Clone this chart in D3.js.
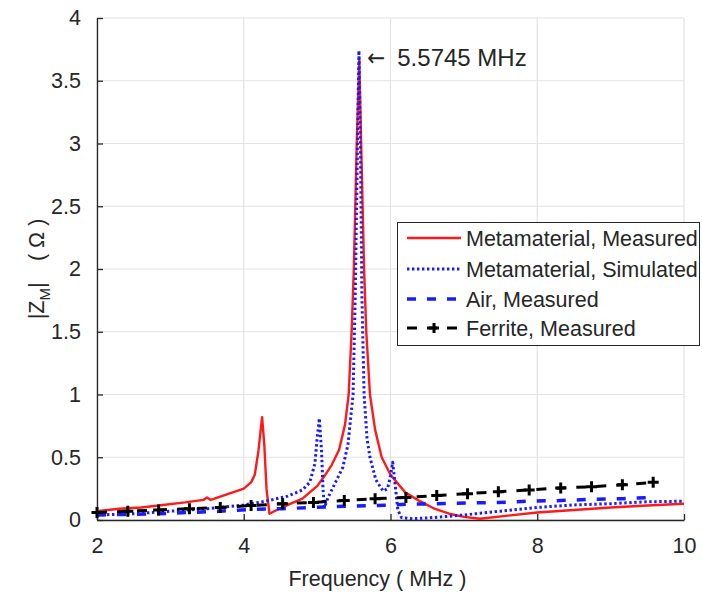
<!DOCTYPE html>
<html>
<head>
<meta charset="utf-8">
<script src="https://cdn.jsdelivr.net/npm/d3@7"></script>
<style>
  html, body { margin: 0; padding: 0; background: #fff; }
  svg { display: block; font-family: "Liberation Sans", Arial, Helvetica, sans-serif; }
</style>
</head>
<body>
<svg id="chart" width="702" height="596"></svg>
<script>
// Metamaterial, measured |Z_M| (Ω) vs frequency (MHz)
const metaMeasFreq = [2.0, 2.3, 2.6, 2.9, 3.2, 3.45, 3.5, 3.55, 3.7, 3.85, 4.0, 4.1, 4.15, 4.2, 4.25, 4.28, 4.31, 4.35,
  4.45, 4.6, 4.8, 5.0, 5.1, 5.2, 5.3, 5.38, 5.43, 5.47, 5.5, 5.54, 5.5745, 5.6, 5.64, 5.67, 5.72, 5.79, 5.88, 6.0,
  6.2, 6.4, 6.6, 6.8, 7.0, 7.22, 7.6, 8.0, 8.5, 9.0, 9.5, 10.0];
const metaMeasVal = [0.07, 0.09, 0.10, 0.12, 0.14, 0.16, 0.18, 0.16, 0.19, 0.22, 0.25, 0.30, 0.36, 0.55, 0.82, 0.60, 0.25, 0.05,
  0.08, 0.12, 0.17, 0.27, 0.35, 0.44, 0.56, 0.76, 1.0, 1.5, 2.0, 3.0, 3.68, 3.0, 2.0, 1.5, 1.0, 0.72, 0.5, 0.36,
  0.22, 0.15, 0.09, 0.05, 0.025, 0.01, 0.035, 0.06, 0.08, 0.10, 0.115, 0.13];

// Metamaterial, simulated
const metaSimFreq = [2.0, 2.5, 3.0, 3.5, 4.0, 4.3, 4.6, 4.8, 4.9, 4.97, 5.0, 5.03, 5.06, 5.08, 5.1, 5.15, 5.25, 5.35, 5.42,
  5.49, 5.52, 5.55, 5.57, 5.59, 5.61, 5.64, 5.68, 5.72, 5.8, 5.9, 5.96, 6.0, 6.03, 6.06, 6.1, 6.15, 6.3, 6.6,
  7.0, 7.5, 8.0, 8.5, 9.0, 9.5, 10.0];
const metaSimVal = [0.04, 0.05, 0.07, 0.09, 0.12, 0.15, 0.19, 0.24, 0.30, 0.45, 0.65, 0.81, 0.55, 0.25, 0.10, 0.18, 0.30, 0.42, 0.60,
  1.0, 1.8, 3.0, 3.74, 3.0, 1.8, 1.0, 0.65, 0.50, 0.32, 0.23, 0.25, 0.35, 0.46, 0.30, 0.08, 0.02, 0.01, 0.02,
  0.04, 0.07, 0.10, 0.12, 0.13, 0.145, 0.15];

// Air and ferrite, measured on a common frequency grid
const sweepFreq = [2.00, 2.42, 2.84, 3.26, 3.68, 4.10, 4.53, 4.95, 5.37, 5.79, 6.21, 6.63, 7.05, 7.47, 7.89, 8.32, 8.74, 9.16, 9.58];
const airVal = [0.04, 0.045, 0.05, 0.06, 0.07, 0.085, 0.09, 0.10, 0.11, 0.115, 0.125, 0.13, 0.135, 0.14, 0.15, 0.155, 0.165, 0.17, 0.18];
const ferriteVal = [0.06, 0.07, 0.08, 0.09, 0.10, 0.115, 0.13, 0.14, 0.155, 0.17, 0.18, 0.195, 0.21, 0.225, 0.24, 0.255, 0.265, 0.28, 0.30];

const xTicks = [2, 4, 6, 8, 10];
const yTicks = [0, 0.5, 1, 1.5, 2, 2.5, 3, 3.5, 4];
const peakFreq = 5.5745;
const peakLabel = "5.5745 MHz";

const seriesNames = ["Metamaterial, Measured", "Metamaterial, Simulated", "Air, Measured", "Ferrite, Measured"];

const svg = d3.select("#chart");
const margin = { left: 97, top: 18, right: 18, bottom: 76 };
const W = 702, H = 596;
const x = d3.scaleLinear().domain([2, 10]).range([margin.left, W - margin.right]);
const y = d3.scaleLinear().domain([0, 4]).range([H - margin.bottom, margin.top]);

const axisColor = "#262626";
const gridColor = "#e3e3e3";
const fontSize = "21.5px";

// grid lines
const grid = svg.append("g");
grid.selectAll("line.gx").data(xTicks).join("line")
  .attr("x1", d => x(d)).attr("x2", d => x(d))
  .attr("y1", y(0)).attr("y2", y(4))
  .attr("stroke", gridColor).attr("stroke-width", 1.2);
grid.selectAll("line.gy").data(yTicks).join("line")
  .attr("x1", x(2)).attr("x2", x(10))
  .attr("y1", d => y(d)).attr("y2", d => y(d))
  .attr("stroke", gridColor).attr("stroke-width", 1.2);

// axes
const fmt = d => String(d);
const xAxis = d3.axisBottom(x).tickValues(xTicks).tickSizeInner(-6).tickSizeOuter(0).tickPadding(18).tickFormat(fmt);
const yAxis = d3.axisLeft(y).tickValues(yTicks).tickSizeInner(-6).tickSizeOuter(0).tickPadding(16).tickFormat(fmt);

const gx = svg.append("g").attr("transform", `translate(0,${y(0)})`).call(xAxis);
const gy = svg.append("g").attr("transform", `translate(${x(2)},0)`).call(yAxis);
[gx, gy].forEach(g => {
  g.select(".domain").attr("stroke", axisColor).attr("stroke-width", 1.3);
  g.selectAll(".tick line").attr("stroke", axisColor).attr("stroke-width", 1.3);
  g.selectAll(".tick text").attr("fill", axisColor).style("font-size", fontSize)
    .style("font-family", "'Liberation Sans', Arial, sans-serif");
});

// clipped plotting region
svg.append("clipPath").attr("id", "plotClip").append("rect")
  .attr("x", x(2)).attr("y", y(4) - 2).attr("width", x(10) - x(2)).attr("height", y(0) - y(4) + 2);
const plot = svg.append("g").attr("clip-path", "url(#plotClip)");

const line = d3.line().x(d => x(d[0])).y(d => y(d[1]));
const zip = (a, b) => a.map((v, i) => [v, b[i]]);

const styles = [
  { color: "#ff1a1a", width: 2.4, dash: null },
  { color: "#1a1aff", width: 3, dash: "2.4,2.6" },
  { color: "#1a1aff", width: 3.5, dash: "9,11" },
  { color: "#000000", width: 3, dash: "10,10" }
];
const data = [
  zip(metaMeasFreq, metaMeasVal),
  zip(metaSimFreq, metaSimVal),
  zip(sweepFreq, airVal),
  zip(sweepFreq, ferriteVal)
];

data.forEach((d, i) => {
  plot.append("path").datum(d)
    .attr("fill", "none")
    .attr("stroke", styles[i].color)
    .attr("stroke-width", styles[i].width)
    .attr("stroke-dasharray", styles[i].dash)
    .attr("stroke-linejoin", "round")
    .attr("d", line);
});

// plus markers on the ferrite series
const plusPath = s => `M${-s},0H${s}M0,${-s}V${s}`;
svg.append("g").selectAll("path").data(data[3]).join("path")
  .attr("transform", d => `translate(${x(d[0])},${y(d[1])})`)
  .attr("d", plusPath(5.5))
  .attr("stroke", "#000").attr("stroke-width", 3).attr("fill", "none");

// axis labels
svg.append("text")
  .attr("x", x(6) - 13).attr("y", 586)
  .attr("text-anchor", "middle").attr("fill", axisColor).style("font-size", fontSize)
  .text("Frequency ( MHz )");

const yl = svg.append("text")
  .attr("transform", `translate(44,${(y(0) + y(4)) / 2}) rotate(-90)`)
  .attr("text-anchor", "middle").attr("fill", axisColor).style("font-size", fontSize);
yl.append("tspan").text("|Z");
yl.append("tspan").attr("dy", 6).style("font-size", "15px").text("M");
yl.append("tspan").attr("dy", -6).text("|\u2003( \u03A9 )");

// peak annotation
const ann = svg.append("text")
  .attr("x", x(peakFreq) + 8).attr("y", 66)
  .attr("fill", axisColor).style("font-size", "24px");
ann.append("tspan").style("font-family", "'DejaVu Sans', sans-serif").style("font-size", "24px")
  .attr("textLength", 18).attr("lengthAdjust", "spacingAndGlyphs").text("\u2190");
ann.append("tspan").attr("dx", 12).text(peakLabel);

// legend
const lg = svg.append("g");
lg.append("rect").attr("x", 397.5).attr("y", 222.5).attr("width", 302).attr("height", 123)
  .attr("fill", "#fff").attr("stroke", axisColor).attr("stroke-width", 1);
const rowY = [238, 269, 299, 328];
seriesNames.forEach((name, i) => {
  const ry = rowY[i];
  lg.append("line").attr("x1", 407).attr("x2", 461).attr("y1", ry).attr("y2", ry)
    .attr("stroke", styles[i].color).attr("stroke-width", styles[i].width)
    .attr("stroke-dasharray", styles[i].dash);
  if (i === 3) {
    lg.append("path").attr("transform", `translate(434,${ry})`).attr("d", plusPath(5))
      .attr("stroke", "#000").attr("stroke-width", 3);
  }
  lg.append("text").attr("x", 466).attr("y", ry + 7.5)
    .attr("fill", axisColor).style("font-size", fontSize).text(name);
});
</script>
</body>
</html>
